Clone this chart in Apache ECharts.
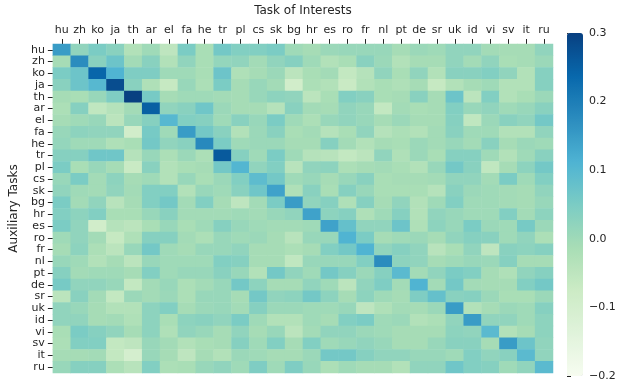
<!DOCTYPE html>
<html>
<head>
<meta charset="utf-8">
<script src="https://cdn.jsdelivr.net/npm/echarts@6/dist/echarts.min.js"></script>
<style>
  html, body { margin: 0; padding: 0; background: #fff; }
  #chart { width: 626px; height: 385px; }
</style>
</head>
<body>
<div id="chart"></div>
<script>
// languages, used for both axes
const langs = ["hu", "zh", "ko", "ja", "th", "ar", "el", "fa", "he", "tr", "pl", "cs", "sk", "bg",
  "hr", "es", "ro", "fr", "nl", "pt", "de", "sr", "uk", "id", "vi", "sv", "it", "ru"];

// one row per auxiliary task, columns follow langs (task of interest)
const hu = [0.15, 0.02, 0.05, 0.03, -0.03, 0.0, -0.05, 0.05, -0.015, 0.06, 0.04, 0.04, 0.05, 0.0, -0.01, 0.005, 0.01, 0.01, 0.01, -0.01, 0.005, 0.0, 0.02, 0.02, -0.005, -0.01, -0.01, 0.02];
const zh = [-0.01, 0.175, 0.03, 0.07, -0.005, 0.03, -0.03, 0.02, -0.015, 0.015, 0.02, -0.005, 0.02, 0.035, 0.0, -0.03, -0.015, 0.03, 0.005, -0.03, -0.01, -0.01, 0.02, -0.005, 0.02, -0.015, -0.01, 0.005];
const ko = [0.05, 0.07, 0.24, 0.11, 0.045, 0.045, 0.0, 0.0, -0.015, 0.07, -0.025, -0.01, 0.005, -0.045, -0.015, -0.005, -0.06, -0.035, 0.02, -0.015, 0.02, -0.03, 0.03, 0.03, 0.04, 0.02, -0.03, 0.035];
const ja = [0.03, 0.07, 0.10, 0.28, 0.03, -0.025, -0.065, 0.01, -0.02, 0.05, -0.01, 0.01, -0.005, -0.09, -0.02, -0.03, -0.07, -0.03, -0.015, -0.025, -0.01, -0.065, -0.03, -0.01, 0.0, -0.03, -0.03, 0.035];
const th = [-0.01, -0.015, 0.01, 0.045, 0.3, 0.055, -0.01, 0.0, 0.0, -0.005, -0.01, 0.01, 0.025, 0.02, -0.045, -0.015, 0.04, 0.03, -0.015, -0.01, 0.03, -0.01, 0.07, -0.045, 0.04, -0.03, -0.015, 0.005];
const ar = [-0.02, 0.035, -0.055, -0.035, -0.005, 0.25, 0.02, 0.03, 0.065, 0.005, -0.01, -0.01, -0.035, 0.03, -0.005, -0.01, 0.02, 0.01, -0.06, -0.005, -0.015, -0.01, 0.04, 0.01, 0.02, 0.0, 0.01, 0.03];
const el = [-0.01, 0.0, 0.01, -0.045, 0.01, 0.035, 0.10, 0.04, 0.035, 0.0, 0.03, 0.01, 0.05, 0.0, -0.02, 0.01, 0.02, 0.01, -0.01, 0.005, -0.01, -0.01, 0.035, -0.055, 0.005, 0.03, 0.02, 0.06];
const fa = [0.01, 0.025, 0.02, 0.02, -0.09, 0.055, 0.0, 0.15, 0.06, 0.03, -0.03, 0.005, 0.03, -0.015, -0.005, -0.035, -0.015, 0.02, -0.035, -0.02, -0.03, -0.005, 0.03, 0.0, 0.0, -0.03, -0.03, 0.02];
const he = [0.015, 0.0, 0.0, -0.025, -0.015, 0.06, 0.02, 0.03, 0.18, 0.05, 0.0, 0.005, 0.005, -0.01, -0.01, 0.035, -0.005, -0.03, -0.01, -0.015, 0.005, -0.005, 0.01, -0.005, 0.03, -0.01, 0.005, 0.0];
const tr = [0.035, 0.035, 0.065, 0.065, -0.035, 0.01, -0.02, 0.005, -0.02, 0.26, 0.035, 0.0, 0.05, 0.0, -0.035, -0.04, -0.06, -0.045, 0.02, -0.025, 0.005, -0.015, 0.035, 0.035, 0.0, -0.03, 0.0, 0.03];
const pl = [0.05, -0.015, 0.01, -0.01, -0.07, 0.03, -0.03, -0.015, -0.01, 0.06, 0.105, 0.02, 0.04, -0.04, 0.02, 0.025, -0.02, -0.01, -0.005, -0.015, -0.03, 0.01, 0.06, 0.03, -0.055, -0.01, 0.025, 0.06];
const cs = [0.01, 0.05, -0.005, 0.025, -0.01, 0.0, -0.03, 0.01, -0.015, 0.005, 0.04, 0.09, 0.06, 0.0, 0.01, -0.01, 0.01, 0.03, -0.015, -0.01, -0.01, -0.005, 0.02, 0.02, -0.005, 0.05, 0.0, 0.04];
const sk = [0.02, 0.0, -0.005, 0.02, -0.005, 0.04, 0.04, -0.03, 0.01, 0.0, 0.03, 0.065, 0.14, -0.025, 0.03, -0.015, 0.035, 0.01, -0.015, -0.015, -0.015, -0.035, 0.03, 0.005, 0.0, -0.005, -0.01, 0.02];
const bg = [0.05, -0.005, 0.02, -0.04, -0.01, 0.04, 0.06, -0.005, 0.04, -0.01, -0.05, -0.005, 0.05, 0.15, 0.02, 0.035, -0.025, 0.035, -0.01, 0.02, -0.03, 0.0, 0.04, 0.0, 0.0, -0.005, -0.01, 0.01];
const hr = [0.04, 0.025, 0.04, -0.015, -0.015, 0.01, 0.03, -0.005, -0.005, -0.005, 0.0, -0.005, 0.01, 0.02, 0.14, 0.025, 0.035, -0.025, 0.0, 0.035, -0.03, 0.02, 0.01, 0.0, 0.0, 0.04, -0.005, 0.025];
const es = [0.05, 0.02, -0.09, -0.035, -0.045, -0.015, 0.01, -0.015, 0.0, 0.035, 0.01, 0.0, -0.005, -0.005, 0.0, 0.14, 0.08, 0.02, 0.02, 0.07, -0.025, 0.025, 0.01, 0.05, 0.005, 0.0, 0.055, 0.005];
const ro = [0.0, 0.02, -0.005, -0.065, -0.025, 0.035, 0.035, -0.005, -0.02, 0.01, 0.0, 0.005, -0.01, -0.04, 0.01, 0.01, 0.11, 0.05, -0.01, 0.0, 0.005, -0.01, 0.02, 0.035, 0.03, 0.0, 0.02, -0.02];
const fr = [-0.01, 0.025, -0.02, -0.045, 0.01, 0.06, 0.0, -0.01, 0.01, 0.01, 0.02, -0.01, -0.01, -0.02, -0.01, 0.04, 0.06, 0.11, 0.02, 0.035, 0.02, -0.04, -0.015, 0.02, -0.05, 0.03, 0.025, 0.035];
const nl = [0.01, 0.0, -0.03, -0.01, -0.045, 0.01, 0.0, 0.0, 0.0, 0.04, 0.035, -0.01, -0.01, -0.055, 0.01, 0.01, 0.01, 0.04, 0.175, 0.025, 0.02, -0.01, 0.0, 0.01, 0.005, 0.035, -0.01, -0.01];
const pt = [0.035, -0.005, 0.0, 0.0, -0.01, 0.04, 0.0, 0.01, 0.01, 0.03, 0.01, -0.03, 0.06, 0.02, 0.0, 0.06, 0.035, 0.005, 0.035, 0.095, -0.005, 0.02, 0.05, 0.04, -0.01, -0.025, 0.02, 0.035];
const de = [0.055, 0.02, 0.02, 0.01, -0.06, -0.005, 0.01, -0.02, -0.005, 0.01, 0.06, 0.025, -0.01, -0.01, 0.02, 0.0, -0.045, 0.02, 0.045, -0.005, 0.11, -0.005, 0.06, -0.005, -0.01, -0.01, 0.04, 0.06];
const sr = [-0.045, 0.03, -0.005, -0.06, 0.005, -0.005, 0.005, -0.02, 0.01, 0.01, -0.01, 0.06, 0.02, 0.025, 0.06, 0.025, -0.01, 0.025, 0.0, -0.01, 0.045, 0.08, 0.03, 0.035, 0.005, -0.015, -0.015, 0.005];
const uk = [0.02, 0.01, -0.01, -0.03, -0.03, 0.025, 0.04, -0.01, 0.005, 0.01, -0.005, 0.035, 0.005, 0.005, 0.0, 0.0, 0.01, -0.05, -0.025, -0.005, -0.01, 0.005, 0.15, -0.03, -0.01, 0.005, 0.0, 0.035];
const id = [0.02, 0.02, -0.01, -0.005, -0.025, 0.025, -0.015, 0.025, 0.03, 0.02, 0.05, 0.0, -0.03, -0.03, 0.0, -0.01, 0.04, 0.05, 0.0, 0.005, -0.03, -0.02, 0.02, 0.15, 0.02, 0.02, 0.0, 0.025];
const vi = [-0.015, 0.05, 0.035, 0.02, -0.01, 0.025, -0.025, 0.02, 0.01, -0.01, 0.02, -0.01, 0.01, -0.045, -0.005, 0.02, 0.02, 0.005, 0.0, -0.01, -0.01, -0.01, 0.025, 0.02, 0.095, -0.03, -0.01, 0.025];
const sv = [-0.02, 0.04, 0.04, -0.06, -0.05, 0.01, -0.005, -0.03, -0.015, -0.01, 0.035, 0.0, 0.04, -0.01, 0.04, 0.0, 0.01, 0.02, 0.01, -0.01, -0.01, 0.01, 0.03, 0.03, -0.01, 0.15, 0.07, 0.02];
const it = [-0.01, -0.01, -0.005, -0.06, -0.1, 0.01, -0.01, -0.05, -0.01, -0.03, 0.005, 0.0, -0.01, -0.01, 0.005, 0.06, 0.06, 0.035, 0.02, 0.02, 0.01, 0.01, 0.0, 0.04, 0.02, 0.03, 0.095, 0.02];
const ru = [0.01, 0.035, 0.035, -0.02, -0.04, 0.04, -0.02, -0.015, 0.01, 0.02, 0.0, 0.045, 0.0, 0.045, 0.01, -0.02, 0.0, -0.01, -0.01, -0.03, 0.02, 0.02, 0.065, 0.04, 0.035, 0.0, 0.02, 0.095];

const rows = [hu, zh, ko, ja, th, ar, el, fa, he, tr, pl, cs, sk, bg, hr, es, ro, fr, nl, pt, de, sr, uk, id, vi, sv, it, ru];

// colour bar
const vMin = -0.2;
const vMax = 0.3;
const GNBU = ["#f7fcf0", "#e0f3db", "#ccebc5", "#a8ddb5", "#7bccc4", "#4eb3d3", "#2b8cbe", "#0868ac", "#084081"];

const FONT = "DejaVu Sans";
const INK = "#262626";

const cells = [];
rows.forEach((row, y) => row.forEach((v, x) => cells.push([x, y, v])));

const chart = echarts.init(document.getElementById("chart"), null, { renderer: "canvas" });
chart.setOption({
  animation: false,
  backgroundColor: "#fff",
  textStyle: { fontFamily: FONT, color: INK },
  grid: [
    { left: 52, top: 38, width: 501, height: 335 },
    { left: 567, top: 33, width: 16, height: 343 }
  ],
  xAxis: [
    {
      type: "category",
      data: langs,
      position: "top",
      gridIndex: 0,
      name: "Task of Interests",
      nameLocation: "middle",
      nameGap: 27,
      nameTextStyle: { fontFamily: FONT, fontSize: 12, color: INK },
      axisLine: { show: false },
      axisTick: { show: true, alignWithLabel: true, length: 5, lineStyle: { color: INK, width: 1 } },
      axisLabel: { fontFamily: FONT, fontSize: 11, color: INK, interval: 0, margin: 8 },
      splitLine: { show: false }
    },
    { type: "value", gridIndex: 1, show: false, min: 0, max: 1 }
  ],
  yAxis: [
    {
      type: "category",
      data: langs,
      inverse: true,
      gridIndex: 0,
      name: "Auxiliary Tasks",
      nameLocation: "middle",
      nameGap: 29,
      nameTextStyle: { fontFamily: FONT, fontSize: 12, color: INK },
      axisLine: { show: false },
      axisTick: { show: true, alignWithLabel: true, length: 5, lineStyle: { color: INK, width: 1 } },
      axisLabel: { fontFamily: FONT, fontSize: 11, color: INK, interval: 0, margin: 8 },
      splitLine: { show: false }
    },
    {
      type: "value",
      gridIndex: 1,
      position: "right",
      min: vMin,
      max: vMax,
      interval: 0.1,
      axisLine: { show: false },
      axisTick: { show: true, length: 4, lineStyle: { color: INK, width: 1 } },
      axisLabel: {
        fontFamily: FONT, fontSize: 11, color: INK, margin: 6,
        formatter: (v) => (Math.round(v * 10) / 10).toFixed(1).replace("-", "\u2212")
      },
      splitLine: { show: false }
    }
  ],
  visualMap: {
    type: "continuous",
    min: vMin,
    max: vMax,
    calculable: false,
    realtime: false,
    orient: "vertical",
    left: 567,
    top: 33,
    itemWidth: 16,
    itemHeight: 343,
    padding: 0,
    text: null,
    showLabel: false,
    seriesIndex: 0,
    inRange: { color: GNBU }
  },
  series: [
    {
      type: "heatmap",
      xAxisIndex: 0,
      yAxisIndex: 0,
      data: cells,
      itemStyle: { borderWidth: 0 },
      emphasis: { disabled: true }
    },
    { type: "scatter", xAxisIndex: 1, yAxisIndex: 1, data: [] }
  ]
});
</script>
</body>
</html>
